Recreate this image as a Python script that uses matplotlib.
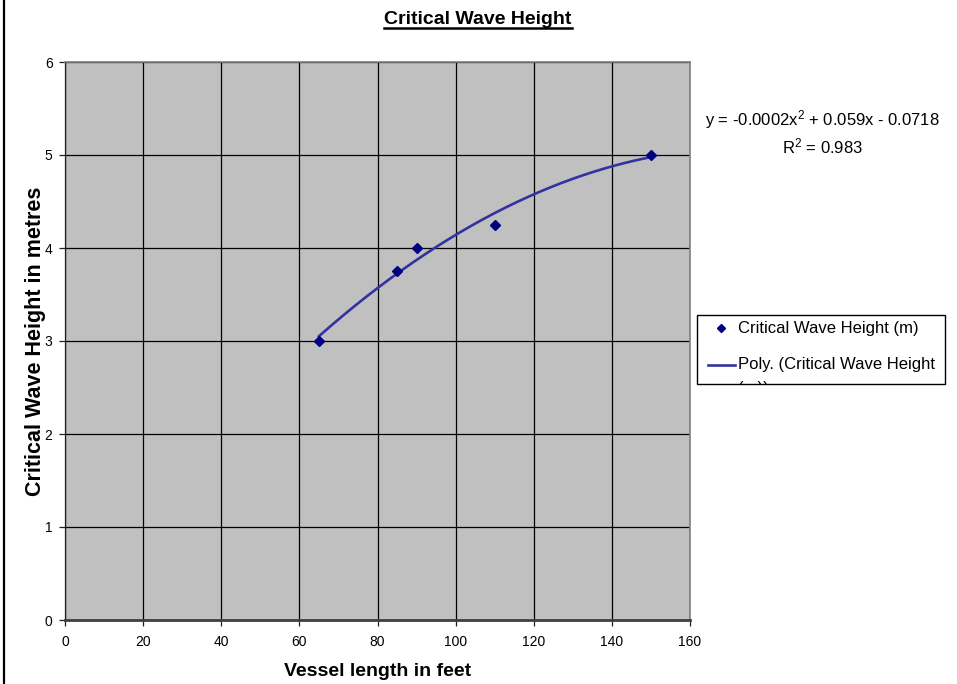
import numpy as np
import matplotlib
matplotlib.use('Agg')
import matplotlib.pyplot as plt
from matplotlib.lines import Line2D
from matplotlib.patches import Rectangle

plt.rcParams['font.family'] = ['Liberation Sans', 'DejaVu Sans']
plt.rcParams['mathtext.fontset'] = 'custom'
plt.rcParams['mathtext.rm'] = 'Liberation Sans'
plt.rcParams['mathtext.it'] = 'Liberation Sans'

# data
vessel_length = [65, 85, 90, 110, 150]
wave_height = [3.0, 3.75, 4.0, 4.25, 5.0]
x_ticks = [0, 20, 40, 60, 80, 100, 120, 140, 160]
y_ticks = [0, 1, 2, 3, 4, 5, 6]
series_name = 'Critical Wave Height (m)'
trend_name = 'Poly. (Critical Wave Height'
equation = r'y = -0.0002x$^2$ + 0.059x - 0.0718'
r2_text = r'R$^2$ = 0.983'

W, H = 957, 684
fig = plt.figure(figsize=(W / 100, H / 100), dpi=100)
ax = fig.add_axes([65 / W, 1 - 620 / H, 625 / W, 558 / H])
ax.set_facecolor('#c0c0c0')

# polynomial trendline (order 2) like excel
coef = np.polyfit(vessel_length, wave_height, 2)
xs = np.linspace(min(vessel_length), max(vessel_length), 200)
ax.plot(xs, np.polyval(coef, xs), color='#3333a0', lw=1.9, zorder=3)
ax.plot(vessel_length, wave_height, 'D', color='#000080', ms=5, zorder=4)

ax.set_xlim(0, 160)
ax.set_ylim(0, 6)
ax.set_xticks(x_ticks)
ax.set_yticks(y_ticks)
ax.grid(True, color='black', lw=0.9)
ax.set_axisbelow(True)
ax.tick_params(labelsize=10, length=4, width=0.9, color='#202020')
ax.tick_params(axis='x', pad=7)
ax.tick_params(axis='y', pad=5)

for s in ['top', 'right']:
    ax.spines[s].set_color('#808080')
    ax.spines[s].set_linewidth(1.2)
ax.spines['left'].set_color('#202020')
ax.spines['left'].set_linewidth(0.9)
ax.spines['bottom'].set_color('#404040')
ax.spines['bottom'].set_linewidth(2)

fig.text(36 / W, 1 - 341 / H, 'Critical Wave Height in metres', rotation=90,
         ha='center', va='center', fontsize=15.5, fontweight='bold')
fig.text(378 / W, 1 - 671 / H, 'Vessel length in feet', ha='center',
         va='center', fontsize=14, fontweight='bold')
title = fig.text(478 / W, 1 - 19 / H, 'Critical Wave Height', ha='center',
                 va='center', fontsize=14, fontweight='bold')

fig.text(822 / W, 1 - 120 / H, equation, ha='center', va='center', fontsize=12)
fig.text(822 / W, 1 - 146 / H, r2_text, ha='center', va='center', fontsize=12)

# legend box drawn by hand so the second label can be cut off
box = Rectangle((697 / W, 1 - 384 / H), 248 / W, 69 / H, transform=fig.transFigure,
                facecolor='white', edgecolor='black', lw=1)
fig.add_artist(box)
fig.add_artist(Line2D([721 / W], [1 - 328 / H], marker='D', color='#000080', ms=4.5,
                      transform=fig.transFigure))
fig.text(738 / W, 1 - 328 / H, series_name, ha='left', va='center', fontsize=12)
fig.add_artist(Line2D([708 / W, 735 / W], [1 - 365 / H, 1 - 365 / H], color='#3333a0',
                      lw=1.9, transform=fig.transFigure))
fig.text(738 / W, 1 - 365 / H, trend_name, ha='left', va='center', fontsize=12)
t = fig.text(738 / W, 1 - 389 / H, '(m))', ha='left', va='center', fontsize=12)
t.set_clip_path(box)

# left frame line
fig.add_artist(Line2D([3.5 / W, 3.5 / W], [0, 1], color='black', lw=1.6,
                      transform=fig.transFigure))

# underline the title
fig.canvas.draw()
bb = title.get_window_extent()
fig.add_artist(Line2D([bb.x0 / W, bb.x1 / W], [(bb.y0 - 0.5) / H, (bb.y0 - 0.5) / H],
                      color='black', lw=1.8, transform=fig.transFigure))

fig.savefig('out.png', dpi=100)
